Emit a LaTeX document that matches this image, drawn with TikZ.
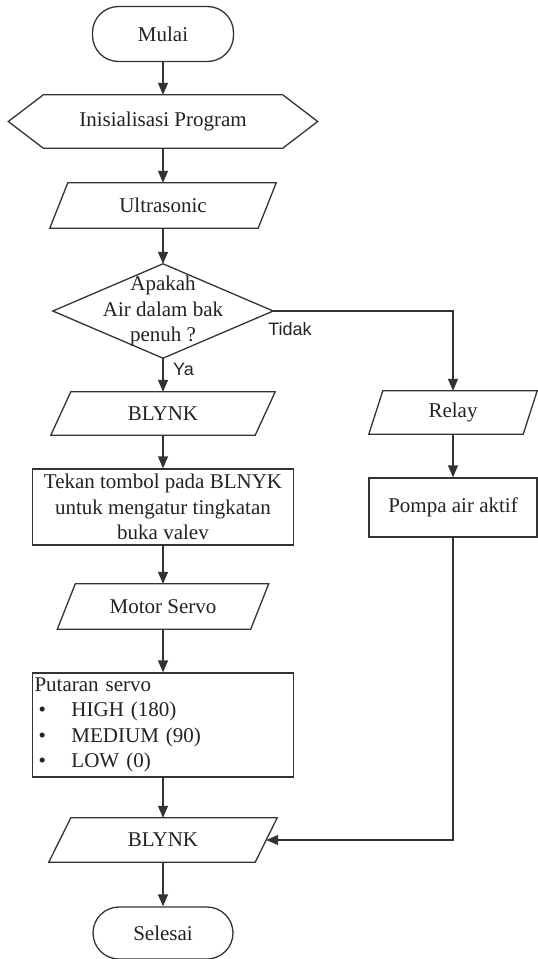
\documentclass[tikz,border=0pt]{standalone}
\usepackage{fontspec}
\setmainfont{Liberation Serif}
\newfontfamily\lblfont{Liberation Sans}
\usetikzlibrary{arrows.meta}
\definecolor{linec}{HTML}{333333}
\definecolor{textc}{HTML}{222222}
\newcommand\paraout[2]{\draw[shapeline] ([xshift=#2]#1.north west) -- ([xshift=#2]#1.north east) -- ([xshift=-#2]#1.south east) -- ([xshift=-#2]#1.south west) -- cycle;}
\begin{document}
\begin{tikzpicture}[x=1pt,y=-1pt,
  shapeline/.style={draw=linec, line width=1.3pt, line join=miter},
  txt/.style={font=\fontsize{21}{25.5}\selectfont, text=textc, align=center, inner sep=0pt},
  term/.style={txt, shapeline, rounded corners=26pt},
  box/.style={txt, shapeline},
  ghost/.style={txt},
  conn/.style={draw=linec, line width=1.3pt, -{Triangle[length=12pt,width=10pt]}},
  lbl/.style={font=\lblfont\fontsize{18}{20}\selectfont, text=textc, inner sep=0pt}
]
\useasboundingbox (0,0) rectangle (538,959);

\node[term, minimum width=141pt, minimum height=55pt] (start) at (163,34) {Mulai};

\node[ghost, minimum width=309pt, minimum height=53pt] (init) at (163,121.5) {Inisialisasi Program};
\draw[shapeline] (init.west) -- ([xshift=35pt]init.north west) -- ([xshift=-35pt]init.north east) -- (init.east) -- ([xshift=-35pt]init.south east) -- ([xshift=35pt]init.south west) -- cycle;

\node[ghost, minimum width=208pt, minimum height=45pt] (ultra) at (163,205.5) {Ultrasonic};
\paraout{ultra}{9pt}

\node[ghost, minimum width=220pt, minimum height=94pt] (dec) at (163,311) {Apakah\\Air dalam bak\\penuh ?};
\draw[shapeline] (dec.north) -- (dec.east) -- (dec.south) -- (dec.west) -- cycle;

\node[ghost, minimum width=204pt, minimum height=43pt] (b1) at (163,413.5) {BLYNK};
\paraout{b1}{10pt}

\node[box, minimum width=261pt, minimum height=76pt] (tekan) at (163,507) {Tekan tombol pada BLNYK\\untuk mengatur tingkatan\\buka valev};

\node[ghost, minimum width=193pt, minimum height=45pt] (motor) at (163,606.5) {Motor Servo};
\paraout{motor}{9pt}

\node[box, minimum width=261pt, minimum height=104pt, text width=257pt, align=left, inner sep=2pt] (putar) at (163,725) {Putaran servo\\\hspace*{4pt}\makebox[33pt][l]{\textbullet}HIGH (180)\\\hspace*{4pt}\makebox[33pt][l]{\textbullet}MEDIUM (90)\\\hspace*{4pt}\makebox[33pt][l]{\textbullet}LOW (0)};

\node[ghost, minimum width=206pt, minimum height=44pt] (b2) at (163,840) {BLYNK};
\paraout{b2}{11pt}

\node[term, minimum width=140pt, minimum height=52pt] (stop) at (163,933) {Selesai};

\node[ghost, minimum width=154pt, minimum height=43pt] (relay) at (453,412.5) {Relay};
\paraout{relay}{7pt}

\node[box, minimum width=168pt, minimum height=59pt] (pompa) at (453,507.5) {Pompa air aktif};

\node[lbl, anchor=north west] (tidak) at ([xshift=-5pt,yshift=-11pt]dec.east) {Tidak};
\node[lbl, anchor=north west] (ya) at ([xshift=10pt,yshift=-5pt]dec.south) {Ya};

\draw[conn] (start.south) -- (init.north);
\draw[conn] (init.south) -- (ultra.north);
\draw[conn] (ultra.south) -- (dec.north);
\draw[conn] (dec.south) -- (b1.north);
\draw[conn] (dec.east) -| (relay.north);
\draw[conn] (b1.south) -- (tekan.north);
\draw[conn] (tekan.south) -- (motor.north);
\draw[conn] (motor.south) -- (putar.north);
\draw[conn] (putar.south) -- (b2.north);
\draw[conn] (b2.south) -- (stop.north);
\draw[conn] (relay.south) -- (pompa.north);
\draw[conn] (pompa.south) |- (b2.east);
\end{tikzpicture}
\end{document}
